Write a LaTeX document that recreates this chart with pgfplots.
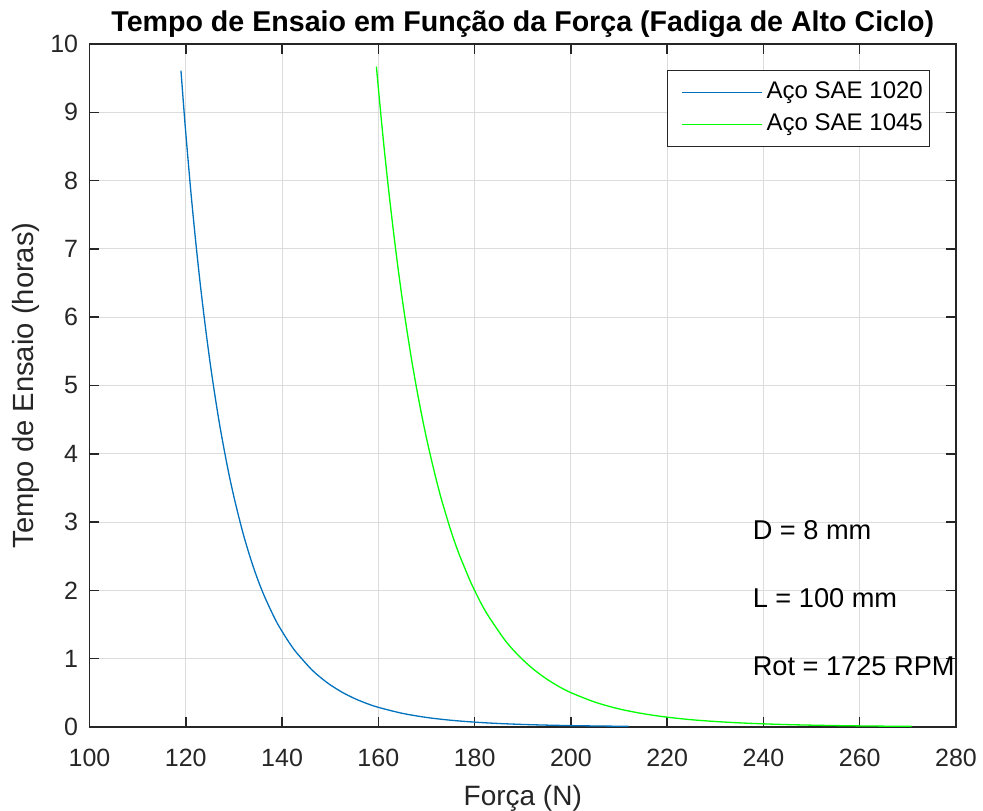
\documentclass[border=0pt]{standalone}
\usepackage{fontspec}
\setmainfont{Liberation Sans}
\usepackage{pgfplots}
\pgfplotsset{compat=1.18}
\usepackage{pgfplotstable}

\definecolor{matblue}{rgb}{0,0.447,0.741}
\definecolor{axgray}{HTML}{262626}
\definecolor{gridgray}{HTML}{DCDCDC}

% Tempo de ensaio (horas) x força (N)
\pgfplotstableread{
F      t
119.0  9.61
119.7  8.96
120    8.70
121    7.88
122    7.15
123    6.49
124    5.90
125    5.36
126    4.88
127    4.44
128    4.05
129    3.69
130    3.37
131    3.08
132    2.81
133    2.57
134    2.35
135    2.15
136    1.97
137    1.81
138    1.66
139    1.52
140    1.40
141.5  1.234
143    1.089
146    0.851
148    0.725
150    0.618
152.5  0.508
155    0.419
157.5  0.347
160    0.288
165    0.200
170    0.140
175    0.0995
180    0.0713
185    0.0515
190    0.0375
195    0.0276
200    0.0204
206    0.0144
212    0.0102
}\acoA

\pgfplotstableread{
F      t
159.6  9.67
160    9.36
161    8.62
162    7.95
163    7.34
164    6.77
165    6.25
166    5.78
167    5.34
168    4.94
169    4.57
170    4.23
171    3.92
172    3.63
173    3.36
174    3.12
175    2.89
176    2.68
177    2.49
178    2.32
179    2.15
180    2.00
181.5  1.79
183    1.61
186    1.30
188    1.13
190    0.985
192.5  0.830
195    0.701
197.5  0.593
200    0.503
205    0.364
210    0.265
215    0.195
220    0.144
225    0.107
230    0.0806
235    0.0608
240    0.0462
245    0.0352
250    0.0270
255    0.0209
260    0.0162
265    0.0126
270.8  0.0095
}\acoB

\begin{document}
\begin{tikzpicture}
\begin{axis}[
  scale only axis,
  width=433.25pt, height=341.5pt,
  xmin=100, xmax=280, ymin=0, ymax=10,
  xtick={100,120,...,280},
  ytick={0,1,...,10},
  tick align=inside,
  major tick length=5pt,
  every tick/.style={axgray, line width=0.75pt},
  axis line style={axgray, line width=0.75pt},
  grid=major,
  major grid style={gridgray, line width=0.5pt},
  /pgf/number format/assume math mode=true,
  ticklabel style={font=\fontsize{12.5}{14}\selectfont, text=axgray},
  xticklabel style={anchor=base, yshift=-19.5pt, inner sep=0pt},
  yticklabel style={anchor=east, xshift=-5.5pt, inner sep=0pt},
  every axis title shift=0pt,
  title={\textbf{Tempo de Ensaio em Função da Força (Fadiga de Alto Ciclo)}},
  title style={at={(axis description cs:0.5,1.0176)}, anchor=base,
    font=\fontsize{14.3}{16}\selectfont, inner sep=0pt},
  xlabel={Força (N)},
  xlabel style={at={(axis description cs:0.5,-0.1142)}, anchor=base,
    font=\fontsize{14}{16}\selectfont, text=axgray, inner sep=0pt},
  ylabel={Tempo de Ensaio (horas)},
  ylabel style={at={(axis description cs:-0.0652,0.5)}, anchor=base,
    font=\fontsize{14.6}{16}\selectfont, text=axgray, inner sep=0pt},
  legend style={at={(0.970,0.962)}, anchor=north east,
    draw=axgray, line width=0.5pt, fill=white,
    font=\fontsize{12}{14}\selectfont,
    inner xsep=1.35pt, inner ysep=3pt, row sep=0pt,
    nodes={text height=9pt, text depth=3pt, inner ysep=2pt}},
  legend cell align=left,
  legend image code/.code={
    \path[draw=none, fill=none] (0pt,-2pt) rectangle (46.3pt,2pt);
    \draw[#1, line width=0.6pt] (6.15pt,0pt) -- (46.15pt,0pt);},
]
\addplot[matblue, line width=0.65pt, smooth] table[x=F, y=t] {\acoA};
\addlegendentry{Aço SAE 1020}
\addplot[green, line width=0.65pt, smooth] table[x=F, y=t] {\acoB};
\addlegendentry{Aço SAE 1045}

\node[anchor=base west, inner sep=0pt, font=\fontsize{13.6}{15}\selectfont] at (axis cs:237.7,2.75) {D = 8 mm};
\node[anchor=base west, inner sep=0pt, font=\fontsize{13.6}{15}\selectfont] at (axis cs:237.7,1.75) {L = 100 mm};
\node[anchor=base west, inner sep=0pt, font=\fontsize{13.6}{15}\selectfont] at (axis cs:237.7,0.75) {Rot = 1725 RPM};
\end{axis}
\path ([xshift=-44.75pt,yshift=-41pt]current axis.south west)
  rectangle ([xshift=13.5pt,yshift=22pt]current axis.north east);
\end{tikzpicture}
\end{document}
